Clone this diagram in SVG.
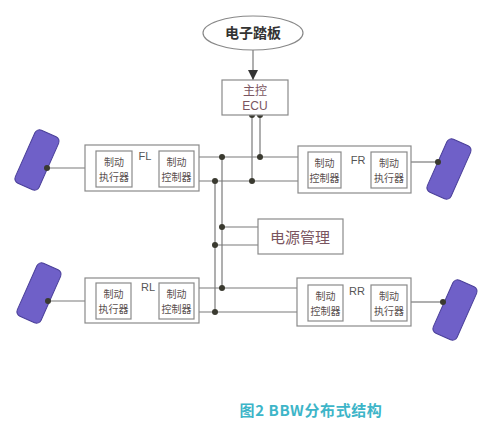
<svg xmlns="http://www.w3.org/2000/svg" width="500" height="428" viewBox="0 0 500 428">
<defs>
<style>
.box{fill:#fff;stroke:#8a8a8a;stroke-width:1.2}
.ln{fill:none;stroke:#7a7a7a;stroke-width:1.2}
.dot{fill:#3a3a30}
.wheel{fill:#6f60c8;stroke:#4a3f99;stroke-width:1}
.t{font-family:"Noto Sans CJK SC","Liberation Sans",sans-serif;fill:#5a5050;text-anchor:middle}
.r{fill:#7a5560}
.s{font-size:10px}
.lab{font-family:"Liberation Sans",sans-serif;font-size:11px;fill:#555;text-anchor:middle}
</style>
<marker id="open" viewBox="0 0 10 10" refX="9" refY="5" markerWidth="8" markerHeight="8" orient="auto" markerUnits="userSpaceOnUse">
<path d="M1,1 L9,5 L1,9" fill="none" stroke="#666" stroke-width="1.3"/>
</marker>
<marker id="fill" viewBox="0 0 10 10" refX="10" refY="5" markerWidth="10" markerHeight="11" orient="auto" markerUnits="userSpaceOnUse">
<path d="M0,0 L10,5 L0,10 Z" fill="#333"/>
</marker>
</defs>
<rect width="500" height="428" fill="#fff"/>

<g id="connectors">
<line class="ln" x1="253" y1="50" x2="253" y2="80" marker-end="url(#fill)"/>
<polyline class="ln" points="252,115 252,181"/>
<polyline class="ln" points="260,115 260,157"/>
<line class="ln" x1="199" y1="157" x2="298" y2="157"/>
<line class="ln" x1="199" y1="181" x2="298" y2="181"/>
<line class="ln" x1="222" y1="157" x2="222" y2="288"/>
<line class="ln" x1="215" y1="181" x2="215" y2="312"/>
<line class="ln" x1="222" y1="227" x2="258" y2="227"/>
<line class="ln" x1="215" y1="245" x2="258" y2="245"/>
<line class="ln" x1="199" y1="288" x2="297" y2="288"/>
<line class="ln" x1="199" y1="312" x2="297" y2="312"/>
<line class="ln" x1="47" y1="168" x2="85" y2="168"/>
<line class="ln" x1="411" y1="162" x2="438" y2="162"/>
<line class="ln" x1="48" y1="301" x2="85" y2="301"/>
<line class="ln" x1="411" y1="302" x2="443" y2="302"/>
<line class="ln" x1="159" y1="169" x2="133" y2="169" marker-end="url(#open)"/>
<line class="ln" x1="341" y1="171" x2="370" y2="171" marker-end="url(#open)"/>
<line class="ln" x1="159" y1="302" x2="132" y2="302" marker-end="url(#open)"/>
<line class="ln" x1="343" y1="303" x2="370" y2="303" marker-end="url(#open)"/>
<circle class="dot" cx="252" cy="115" r="3"/>
<circle class="dot" cx="260" cy="115" r="3"/>
<circle class="dot" cx="260" cy="157" r="3"/>
<circle class="dot" cx="252" cy="181" r="3"/>
<circle class="dot" cx="222" cy="157" r="3"/>
<circle class="dot" cx="215" cy="181" r="3"/>
<circle class="dot" cx="222" cy="227" r="3"/>
<circle class="dot" cx="215" cy="245" r="3"/>
<circle class="dot" cx="222" cy="288" r="3"/>
<circle class="dot" cx="215" cy="312" r="3"/>
</g>

<g id="pedal">
<ellipse cx="253" cy="33" rx="50" ry="17" fill="#fff" stroke="#888" stroke-width="1.2"/>
<text class="t" x="253" y="38" font-size="14" font-weight="bold" style="fill:#333">电子踏板</text>
</g>

<g id="ecu">
<rect class="box" x="222" y="80" width="66" height="35"/>
<text class="t r" x="255" y="95" font-size="12">主控</text>
<text class="t r" x="255" y="110" font-size="12" style="font-family:'Liberation Sans',sans-serif">ECU</text>
</g>

<g id="power">
<rect class="box" x="258" y="219" width="85" height="35"/>
<text class="t r" x="300" y="243" font-size="15">电源管理</text>
</g>

<g id="FL">
<rect class="box" x="85" y="145" width="114" height="46"/>
<rect class="box" x="96" y="151" width="36" height="36"/>
<rect class="box" x="159" y="151" width="35" height="36"/>
<text class="t s" x="114" y="166">制动</text>
<text class="t s" x="114" y="181">执行器</text>
<text class="t s" x="176.5" y="166">制动</text>
<text class="t s" x="176.5" y="181">控制器</text>
<text class="lab" x="145" y="160">FL</text>
</g>

<g id="FR">
<rect class="box" x="298" y="146" width="113" height="47"/>
<rect class="box" x="308" y="152" width="33" height="36"/>
<rect class="box" x="371" y="152" width="36" height="36"/>
<text class="t s" x="324.5" y="167">制动</text>
<text class="t s" x="324.5" y="182">控制器</text>
<text class="t s" x="389" y="167">制动</text>
<text class="t s" x="389" y="182">执行器</text>
<text class="lab" x="358" y="164">FR</text>
</g>

<g id="RL">
<rect class="box" x="85" y="278" width="114" height="45"/>
<rect class="box" x="96" y="283" width="35" height="36"/>
<rect class="box" x="159" y="283" width="35" height="36"/>
<text class="t s" x="113.5" y="298">制动</text>
<text class="t s" x="113.5" y="313">执行器</text>
<text class="t s" x="176.5" y="298">制动</text>
<text class="t s" x="176.5" y="313">控制器</text>
<text class="lab" x="148" y="291">RL</text>
</g>

<g id="RR">
<rect class="box" x="297" y="278" width="114" height="48"/>
<rect class="box" x="308" y="285" width="35" height="36"/>
<rect class="box" x="371" y="285" width="36" height="36"/>
<text class="t s" x="325.5" y="300">制动</text>
<text class="t s" x="325.5" y="315">控制器</text>
<text class="t s" x="389" y="300">制动</text>
<text class="t s" x="389" y="315">执行器</text>
<text class="lab" x="357" y="295">RR</text>
</g>

<g id="wheel-FL">
<rect class="wheel" x="-13" y="-29" width="26" height="58" rx="5" transform="translate(37,160) rotate(24)"/>
<circle class="dot" cx="47" cy="168" r="3"/>
</g>
<g id="wheel-FR">
<rect class="wheel" x="-13" y="-29" width="26" height="58" rx="5" transform="translate(449,169) rotate(24)"/>
<circle class="dot" cx="438" cy="162" r="3"/>
</g>
<g id="wheel-RL">
<rect class="wheel" x="-13" y="-29" width="26" height="58" rx="5" transform="translate(39,293) rotate(24)"/>
<circle class="dot" cx="48" cy="301" r="3"/>
</g>
<g id="wheel-RR">
<rect class="wheel" x="-13" y="-29" width="26" height="58" rx="5" transform="translate(455,310) rotate(24)"/>
<circle class="dot" cx="443" cy="302" r="3"/>
</g>

<text x="311" y="416" font-family="'Noto Sans CJK SC','Liberation Sans',sans-serif" font-size="15" font-weight="bold" letter-spacing="0.6" fill="#3db5c8" text-anchor="middle">图2 BBW分布式结构</text>
</svg>
